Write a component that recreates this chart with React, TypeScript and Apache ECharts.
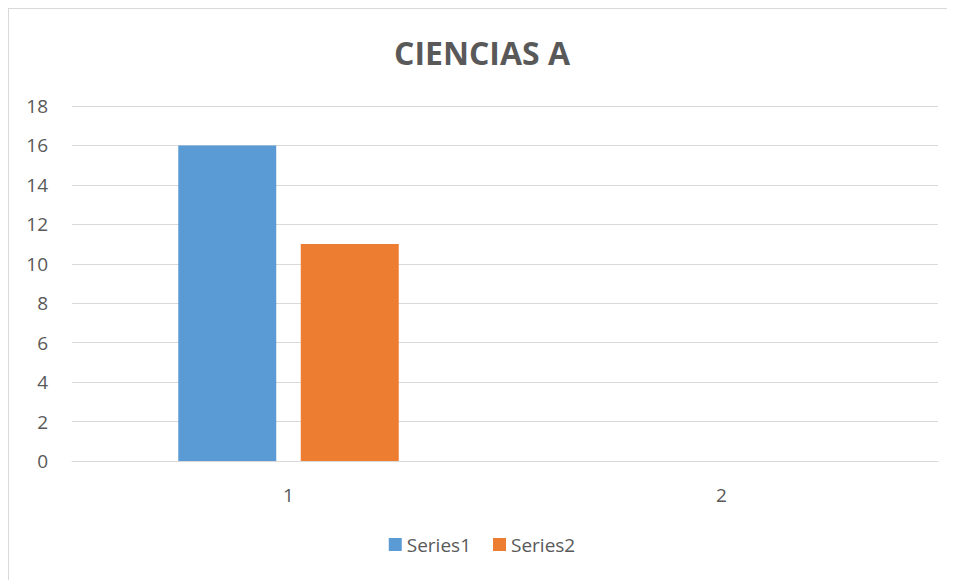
import React, { useEffect, useRef } from "react";
import * as echarts from "echarts";

const categories = ["1", "2"];
const series1 = [16, 0];
const series2 = [11, 0];
const seriesNames = ["Series1", "Series2"];

export default function App() {
  const ref = useRef<HTMLDivElement>(null);
  useEffect(() => {
    if (!ref.current) return;
    const chart = echarts.init(ref.current, undefined, { renderer: "svg" });
    const font = "'Open Sans', sans-serif";
    chart.setOption({
      animation: false,
      backgroundColor: "#ffffff",
      textStyle: { fontFamily: font },
      title: {
        text: "CIENCIAS A",
        left: "center",
        top: 22,
        textStyle: { fontSize: 32, fontWeight: "bold", color: "#595959", fontFamily: font },
      },
      legend: {
        bottom: 21,
        left: "center",
        itemWidth: 13,
        itemHeight: 13,
        itemGap: 22,
        itemTextGap: 6,
        icon: "rect",
        textStyle: { fontSize: 19, color: "#595959", fontFamily: font },
        data: seriesNames,
      },
      grid: { left: 63, right: 17, top: 97, bottom: 119, containLabel: false },
      xAxis: {
        type: "category",
        data: categories,
        axisLine: { lineStyle: { color: "#d9d9d9", width: 1 } },
        axisTick: { show: false },
        axisLabel: { fontSize: 19, color: "#595959", margin: 24, fontFamily: font },
      },
      yAxis: {
        type: "value",
        min: 0,
        max: 18,
        interval: 2,
        axisLine: { show: false },
        axisTick: { show: false },
        axisLabel: { fontSize: 19, color: "#595959", margin: 24, fontFamily: font },
        splitLine: { lineStyle: { color: "#d9d9d9", width: 1 } },
      },
      series: [
        { name: seriesNames[0], type: "bar", data: series1, barWidth: 98, barGap: "25%", itemStyle: { color: "#5b9bd5" } },
        { name: seriesNames[1], type: "bar", data: series2, barWidth: 98, itemStyle: { color: "#ed7d31" } },
      ],
    });
    return () => chart.dispose();
  }, []);
  return (
    <div
      style={{
        width: 947,
        height: 572,
        boxSizing: "border-box",
        borderLeft: "1px solid #d9d9d9",
        borderTop: "1px solid #d9d9d9",
      }}
    >
      <div ref={ref} style={{ width: 946, height: 571 }} />
    </div>
  );
}
